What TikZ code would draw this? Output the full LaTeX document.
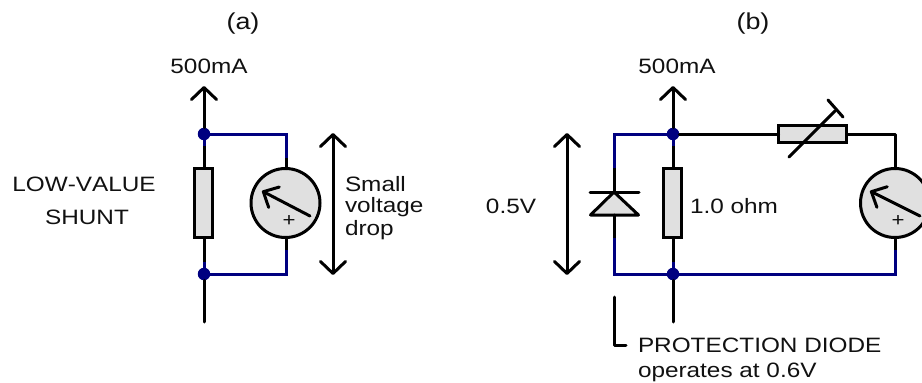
\documentclass[tikz,border=0pt]{standalone}
\usepackage{fontspec}
\setmainfont[FakeStretch=1.17,Kerning=Off]{Liberation Sans}
\usetikzlibrary{arrows.meta}
\definecolor{wireblue}{HTML}{000080}
\definecolor{partgrey}{HTML}{E0E0E0}
\definecolor{inktext}{HTML}{111111}
\tikzset{
  bk/.style={draw=black,line width=3pt,line cap=round,line join=round},
  bl/.style={draw=wireblue,line width=3pt,line join=miter},
  partshape/.style={draw=black,line width=3pt,fill=partgrey,inner sep=0pt,outer sep=0pt},
  resv/.style={partshape,rectangle,minimum width=18pt,minimum height=69pt},
  resh/.style={partshape,rectangle,minimum width=68pt,minimum height=17pt},
  meter/.style={partshape,circle,minimum size=69pt},
  junction/.style={circle,fill=wireblue,inner sep=0pt,minimum size=12.5pt},
  barb/.style={-{Straight Barb[length=12pt,width=25pt,line width=3pt,round]}},
  dbarb/.style={{Straight Barb[length=12pt,width=25pt,line width=3pt,round]}-{Straight Barb[length=12pt,width=25pt,line width=3pt,round]}},
  smallbarb/.style={-{Straight Barb[length=12pt,width=23pt,line width=3pt,round]}},
  lbl/.style={inner sep=0pt,outer sep=0pt,text=inktext,font=\fontsize{20.8}{24}\selectfont},
}
\begin{document}
\begin{tikzpicture}[x=1pt,y=-1pt]
\useasboundingbox (0,0) rectangle (922,383);
\clip (0,0) rectangle (922,383);
\fill[white] (0,0) rectangle (922,383);

% --- panel (a)
\coordinate (aTip) at (204,86);
\coordinate (aEnd) at (204,322);
\coordinate (aTopR) at (286,134);
\coordinate (aBotR) at (286,274);
\coordinate (aBlT) at (286,158);
\coordinate (aBlB) at (286,250);
\coordinate (aVt) at (333,133);
\coordinate (aVb) at (333,275);
\node[junction] (aJt) at (204,134) {};
\node[junction] (aJb) at (204,274) {};
\node[resv] (aR) at (203,203) {};
\node[meter] (aM) at (285.5,203) {};
\coordinate (aNs) at (310,216);
\coordinate (aNt) at (262,191);
\draw[bk] (204,146) -- (204,168);
\draw[bk] (204,262) -- (204,238);
\draw[bk] (aBlT) -- (aBlT |- aM.north);
\draw[bk] (aBlB) -- (aBlB |- aM.south);
\draw[bl] (aJt.center) -- (aTopR) -- (aBlT);
\draw[bl] (aJb.center) -- (aBotR) -- (aBlB);
\draw[bl] (aJt.center) -- (204,146);
\draw[bl] (aJb.center) -- (204,262);
\draw[bk,barb] (aJt) -- (aTip);
\draw[bk] (aJb) -- (aEnd);
\draw[bk,dbarb] (aVt) -- (aVb);
\draw[bk,smallbarb] (aNs) -- (aNt);
\node[lbl,font=\fontsize{19}{20}\selectfont] (aPlus) at (289,221) {+};
\node[lbl,anchor=base,font=\fontsize{23}{26}\selectfont] (aCap) at (243,29) {(a)};
\node[lbl,anchor=base] (aI) at (209,73) {500mA};
\node[lbl,anchor=base] (aL1) at (84,191) {LOW-VALUE};
\node[lbl,anchor=base] (aL2) at (87,224) {SHUNT};
\node[lbl,anchor=base west] (aS1) at (345,191) {Small};
\node[lbl,anchor=base west] (aS2) at (345,212) {voltage};
\node[lbl,anchor=base west] (aS3) at (345,235) {drop};

% --- panel (b)
\coordinate (bTip) at (673,86);
\coordinate (bEnd) at (673,322);
\coordinate (bTL) at (614,134);
\coordinate (bBL) at (614,274);
\coordinate (bBR) at (895,274);
\coordinate (bBlB) at (895,250);
\coordinate (bDt) at (614,168);
\coordinate (bDb) at (614,238);
\coordinate (bVt) at (567,133);
\coordinate (bVb) at (567,275);
\coordinate (bLt) at (614,297);
\coordinate (bLc) at (614,345);
\coordinate (bLe) at (626,345);
\node[junction] (bJt) at (673,134) {};
\node[junction] (bJb) at (673,274) {};
\node[resv] (bR) at (672,203) {};
\node[resh] (bVR) at (812.5,134) {};
\node[meter] (bM) at (895,203) {};
\coordinate (bNs) at (920,216);
\coordinate (bNt) at (870,191);
% diode
\coordinate (bAp) at (614,192);
\coordinate (bBa) at (590.5,215);
\coordinate (bBb) at (638.5,215);
\coordinate (bB1) at (590,192);
\coordinate (bB2) at (639,192);
\coordinate (bBm) at (614,215);
\filldraw[bk,fill=partgrey] (bAp) -- (bBa) -- (bBb) -- cycle;
\draw[bk] (bB1) -- (bB2);
\draw[bk] (bDt) -- (bAp);
\draw[bk] (bBm) -- (bDb);
\draw[bk] (673,146) -- (673,168);
\draw[bk] (673,262) -- (673,238);
\draw[bk] (bBlB) -- (bBlB |- bM.south);
\draw[bl] (bDt) -- (bTL) -- (bJt.center);
\draw[bl] (bDb) -- (bBL) -- (bJb.center) -- (bBR) -- (bBlB);
\draw[bl] (bJt.center) -- (673,146);
\draw[bl] (bJb.center) -- (673,262);
\draw[bk,barb] (bJt) -- (bTip);
\draw[bk] (bJb) -- (bEnd);
\draw[bk] (bJt) -- (bVR);
\draw[bk] (bVR) -| (bM);
\draw[bk,dbarb] (bVt) -- (bVb);
\draw[bk] (bLt) -- (bLc) -- (bLe);
% variable resistor slash
\coordinate (bSa) at (789,157);
\coordinate (bSb) at (835,111);
\coordinate (bTa) at (828,100);
\coordinate (bTb) at (843,117);
\draw[bk] (bSa) -- (bSb);
\draw[bk] (bTa) -- (bTb);
\draw[bk,smallbarb] (bNs) -- (bNt);
\node[lbl,font=\fontsize{19}{20}\selectfont] (bPlus) at (898,221) {+};
\node[lbl,anchor=base,font=\fontsize{23}{26}\selectfont] (bCap) at (753,29) {(b)};
\node[lbl,anchor=base] (bI) at (677,73) {500mA};
\node[lbl,anchor=base west] (bOhm) at (690,213) {1.0 ohm};
\node[lbl,anchor=base] (bV) at (511,213) {0.5V};
\node[lbl,anchor=base west] (bP1) at (638,352) {PROTECTION DIODE};
\node[lbl,anchor=base west] (bP2) at (638,377) {operates at 0.6V};
\end{tikzpicture}
\end{document}
